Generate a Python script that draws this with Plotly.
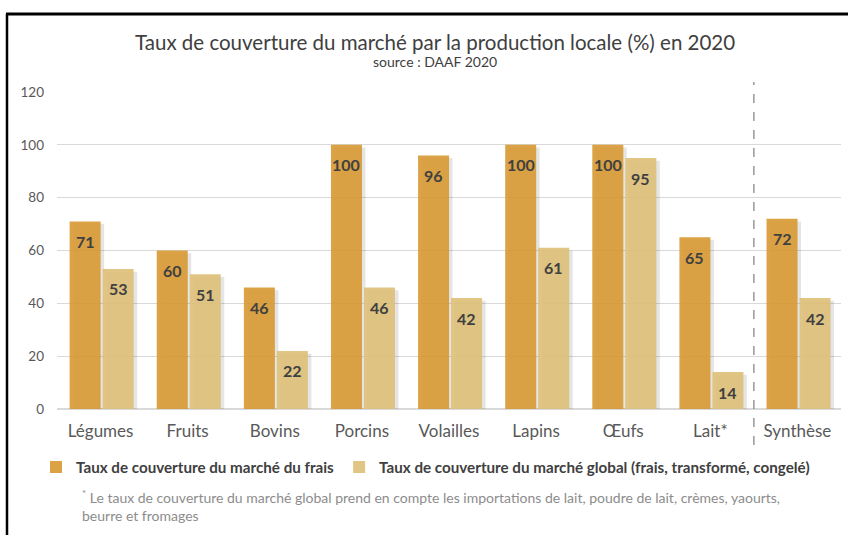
import plotly.graph_objects as go

categories = ["Légumes", "Fruits", "Bovins", "Porcins", "Volailles", "Lapins", "Œufs", "Lait*", "Synthèse"]
frais = [71, 60, 46, 100, 96, 100, 100, 65, 72]
global_ = [53, 51, 22, 46, 42, 61, 95, 14, 42]
series_names = ["Taux de couverture du marché du frais",
                "Taux de couverture du marché global (frais, transformé, congelé)"]
y_ticks = [0, 20, 40, 60, 80, 100, 120]

ORANGE = "rgba(215,152,50,0.9)"
LIGHT = "rgba(221,192,122,0.92)"
SHADOW = "rgba(0,0,0,0.10)"
FONT = "Lato"

L, R, T, B = 57, 7, 92, 126
W, H = 848, 535
pw, ph = W - L - R, H - T - B

def px_x(p):
    return (p - L) / pw

def px_y(p):
    return (H - B - p) / ph

bw = 0.356
off1 = -0.355
off2 = 0.024
sh = 0.04  # shadow shift (category units)

fig = go.Figure()
# soft drop shadows behind bars
for vals, off in ((frais, off1), (global_, off2)):
    fig.add_trace(go.Bar(x=categories, y=[v - 1 for v in vals], width=bw, offset=off + sh,
                         marker_color=SHADOW, marker_line_width=0, showlegend=False, hoverinfo="skip"))
fig.add_trace(go.Bar(x=categories, y=frais, name=series_names[0], marker_color=ORANGE,
                     width=bw, offset=off1, marker_line_width=0))
fig.add_trace(go.Bar(x=categories, y=global_, name=series_names[1], marker_color=LIGHT,
                     width=bw, offset=off2, marker_line_width=0))

annotations = []
for i, (a, b) in enumerate(zip(frais, global_)):
    for val, off in ((a, off1), (b, off2)):
        annotations.append(dict(x=i + off + bw / 2, y=val, xref="x", yref="y", text=f"<b>{val}</b>",
                                showarrow=False, yshift=-20, font=dict(family=FONT, size=16, color="#404040")))

annotations.append(dict(x=px_x(434.5), y=px_y(42), xref="paper", yref="paper", showarrow=False,
                        text="Taux de couverture du marché par la production locale (%) en 2020",
                        font=dict(family=FONT, size=20.5, color="#404040"), xanchor="center", yanchor="middle"))
annotations.append(dict(x=px_x(434.5), y=px_y(62), xref="paper", yref="paper", showarrow=False,
                        text="source : DAAF 2020",
                        font=dict(family=FONT, size=14, color="#404040"), xanchor="center", yanchor="middle"))
annotations.append(dict(x=px_x(80), y=px_y(506), xref="paper", yref="paper", showarrow=False,
                        text="<sup>*</sup> Le taux de couverture du marché global prend en compte les importations de lait, poudre de lait, crèmes, yaourts,<br>beurre et fromages",
                        align="left", xanchor="left", yanchor="middle",
                        font=dict(family=FONT, size=14, color="#8C8C8C")))

shapes = [
    dict(type="line", xref="x", yref="paper", x0=7.5, x1=7.5, y0=px_y(445), y1=px_y(82),
         line=dict(color="#7F7F7F", width=1.2, dash="dash")),
    dict(type="line", xref="paper", yref="paper", x0=px_x(6), x1=px_x(850), y0=px_y(14), y1=px_y(14),
         line=dict(color="black", width=3)),
    dict(type="line", xref="paper", yref="paper", x0=px_x(7), x1=px_x(7), y0=px_y(14), y1=px_y(540),
         line=dict(color="black", width=2.5)),
]

fig.update_layout(
    width=W, height=H,
    margin=dict(l=L, r=R, t=T, b=B, autoexpand=False),
    paper_bgcolor="white", plot_bgcolor="white",
    barmode="overlay",
    showlegend=True,
    legend=dict(orientation="h", x=px_x(36), y=px_y(467), xanchor="left", yanchor="middle",
                font=dict(family=FONT, size=15.2, color="#404040", weight="bold"),
                itemwidth=30, traceorder="normal"),
    xaxis=dict(type="category", showgrid=False, showline=False, ticks="", automargin=False,
               ticklabelstandoff=10,
               tickfont=dict(family=FONT, size=17, color="#595959"), range=[-0.5, 8.5]),
    yaxis=dict(range=[0, 120], tickvals=y_ticks, showgrid=True, gridcolor="#D9D9D9", gridwidth=1,
               zeroline=True, zerolinecolor="#D9D9D9", zerolinewidth=1.5, showline=False, ticks="",
               ticklabelstandoff=12, automargin=False,
               tickfont=dict(family=FONT, size=13.5, color="#595959")),
    annotations=annotations,
    shapes=shapes,
    font=dict(family=FONT),
)

fig.write_html("out.html", config={"displayModeBar": False},
               post_script="document.body.style.margin='0';document.body.style.overflow='hidden';")
